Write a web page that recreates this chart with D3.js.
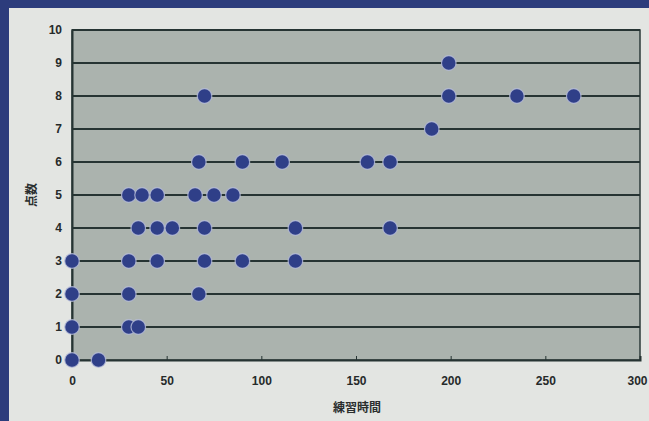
<!DOCTYPE html>
<html>
<head>
<meta charset="utf-8">
<script src="https://cdn.jsdelivr.net/npm/d3@7"></script>
<style>
  html, body { margin: 0; padding: 0; background: #e3e5e2; }
  svg { display: block; }
</style>
</head>
<body>
<svg id="chart" width="649" height="421"></svg>
<script>
// practice time (minutes) vs. score, grouped by score
const scores = [0, 1, 2, 3, 4, 5, 6, 7, 8, 9];
const timesByScore = [
  [0, 14],
  [0, 30, 35],
  [0, 30, 67],
  [0, 30, 45, 70, 90, 118],
  [35, 45, 53, 70, 118, 168],
  [30, 37, 45, 65, 75, 85],
  [67, 90, 111, 156, 168],
  [190],
  [70, 199, 235, 265],
  [199]
];
const xTicks = [0, 50, 100, 150, 200, 250, 300];
const yTicks = [0, 1, 2, 3, 4, 5, 6, 7, 8, 9, 10];
const xTitle = "練習時間";
const yTitle = "点数";

const points = [];
scores.forEach((s, i) => timesByScore[i].forEach(t => points.push({ t, s })));

const svg = d3.select("#chart");
const W = 649, H = 421;
const m = { left: 72, right: 9, top: 30, bottom: 61 };

// page background and the dark blue edges
svg.append("rect").attr("width", W).attr("height", H).attr("fill", "#e3e5e2");
svg.append("rect").attr("x", 0).attr("y", 0).attr("width", 9).attr("height", H).attr("fill", "#2c3c7c");
svg.append("rect").attr("x", 0).attr("y", 0).attr("width", W).attr("height", 8).attr("fill", "#2c3c7c");

const x = d3.scaleLinear().domain([0, 300]).range([m.left, W - m.right]);
const y = d3.scaleLinear().domain([0, 10]).range([H - m.bottom, m.top]);

// plot area
svg.append("rect")
  .attr("x", x(0)).attr("y", y(10))
  .attr("width", x(300) - x(0)).attr("height", y(0) - y(10))
  .attr("fill", "#abb3ae")
  .attr("stroke", "#2d3b3a").attr("stroke-width", 1.5);

// horizontal gridlines
svg.append("g").selectAll("line")
  .data(yTicks.filter(v => v > 0))
  .join("line")
  .attr("x1", x(0)).attr("x2", x(300))
  .attr("y1", d => y(d)).attr("y2", d => y(d))
  .attr("stroke", "#263433").attr("stroke-width", 2);

// x axis
const xAxis = svg.append("g")
  .attr("transform", `translate(0,${y(0)})`)
  .call(d3.axisBottom(x).tickValues(xTicks).tickSize(-4).tickPadding(16));
xAxis.select(".domain").attr("stroke", "#263433").attr("stroke-width", 2);
xAxis.selectAll(".tick line").attr("stroke", "#263433");
xAxis.selectAll("text")
  .attr("font-family", "Liberation Sans, Arial, sans-serif")
  .attr("font-size", 12).attr("font-weight", "bold").attr("fill", "#262a2a")
  .attr("dx", d => d === 300 ? -3 : 0);

// y axis
const yAxis = svg.append("g")
  .attr("transform", `translate(${x(0)},0)`)
  .call(d3.axisLeft(y).tickValues(yTicks).tickSize(0).tickPadding(10));
yAxis.select(".domain").attr("stroke", "#263433").attr("stroke-width", 2);
yAxis.selectAll("text")
  .attr("font-family", "Liberation Sans, Arial, sans-serif")
  .attr("font-size", 12).attr("font-weight", "bold").attr("fill", "#262a2a");

// axis titles
svg.append("text")
  .attr("x", 357).attr("y", 412)
  .attr("text-anchor", "middle")
  .attr("font-family", "Noto Sans CJK JP, sans-serif")
  .attr("font-size", 12).attr("font-weight", "bold").attr("fill", "#2a2e2e")
  .text(xTitle);
svg.append("text")
  .attr("transform", "translate(36,195) rotate(-90)")
  .attr("text-anchor", "middle")
  .attr("font-family", "Noto Sans CJK JP, sans-serif")
  .attr("font-size", 12).attr("font-weight", "bold").attr("fill", "#2a2e2e")
  .text(yTitle);

// data points
svg.append("g").selectAll("circle")
  .data(points)
  .join("circle")
  .attr("cx", d => x(d.t)).attr("cy", d => y(d.s))
  .attr("r", 7.3)
  .attr("fill", "#2f3f88")
  .attr("stroke", "#b9bfdc").attr("stroke-width", 1.2).attr("stroke-opacity", 0.8);
</script>
</body>
</html>
